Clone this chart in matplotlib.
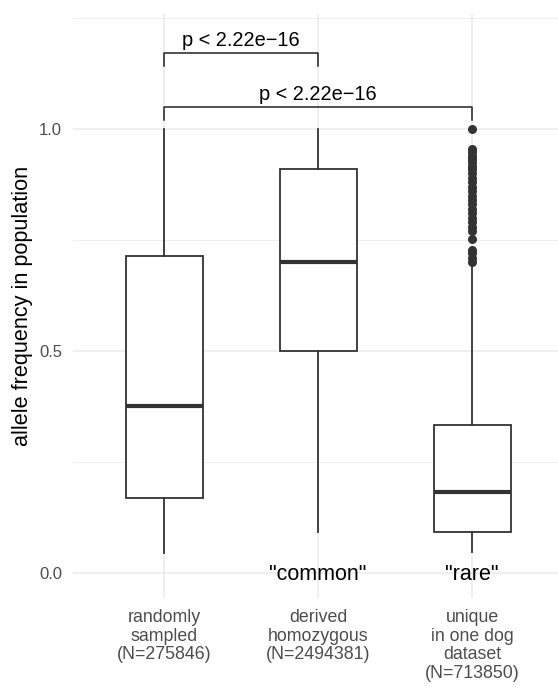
import matplotlib
matplotlib.use('Agg')
import matplotlib.pyplot as plt

plt.rcParams['font.family'] = ['Liberation Sans', 'DejaVu Sans']

# category labels on the x axis
groups = ['randomly\nsampled\n(N=275846)',
          'derived\nhomozygous\n(N=2494381)',
          'unique\nin one dog\ndataset\n(N=713850)']

# box statistics
whis_low = [0.045, 0.093, 0.047]
q1 = [0.169, 0.500, 0.092]
median = [0.376, 0.700, 0.182]
q3 = [0.714, 0.910, 0.333]
whis_high = [1.0, 1.0, 0.69]

# outliers, only the "rare" group has them
rare_outliers = [1.0, 0.955, 0.948, 0.94, 0.932, 0.925, 0.917, 0.91, 0.90,
                 0.89, 0.88, 0.87, 0.86, 0.85, 0.84, 0.83, 0.82, 0.81, 0.80,
                 0.79, 0.78, 0.77, 0.752, 0.727, 0.72, 0.71, 0.70]
outliers = [[], [], rare_outliers]

# significance brackets
pairs = [(1, 2), (1, 3)]
bracket_y = [1.171, 1.050]
p_text = ['p < 2.22e\u221216', 'p < 2.22e\u221216']

# labels written inside the panel
annot_x = [2, 3]
annot_text = ['"common"', '"rare"']

DARK = '#333333'
GRID = '#EBEBEB'
TXT = '#4D4D4D'

fig = plt.figure(figsize=(5.58, 6.88), dpi=100)
ax = fig.add_axes([73 / 558, 90 / 688, 485 / 558, 584 / 688])

stats = []
for i in range(len(groups)):
    stats.append({'whislo': whis_low[i], 'q1': q1[i], 'med': median[i],
                  'q3': q3[i], 'whishi': whis_high[i], 'fliers': outliers[i]})

ax.bxp(stats, positions=[1, 2, 3], widths=0.5, showcaps=False,
       patch_artist=True,
       boxprops=dict(facecolor='white', edgecolor=DARK, linewidth=1.3),
       whiskerprops=dict(color=DARK, linewidth=1.3),
       medianprops=dict(color=DARK, linewidth=3.0, solid_capstyle='butt'),
       flierprops=dict(marker='o', markersize=6.5, markerfacecolor=DARK,
                       markeredgecolor=DARK, markeredgewidth=0),
       zorder=3)

# grid like theme_minimal
for y in [0, 0.5, 1.0]:
    ax.axhline(y, color=GRID, linewidth=1.1, zorder=0)
for y in [0.25, 0.75, 1.25]:
    ax.axhline(y, color=GRID, linewidth=0.6, zorder=0)
for x in [1, 2, 3]:
    ax.axvline(x, color=GRID, linewidth=1.1, zorder=0)

# brackets with p values
tick = 0.029
for (a, b), y, t in zip(pairs, bracket_y, p_text):
    ax.plot([a, a, b, b], [y - tick, y, y, y - tick], color='#222222',
            linewidth=1.1, zorder=4, clip_on=False)
    ax.text((a + b) / 2, y + 0.006, t, ha='center', va='bottom',
            fontsize=14.4, color='black', zorder=5)

for x, t in zip(annot_x, annot_text):
    ax.text(x, -0.004, t, ha='center', va='center', fontsize=15.5,
            color='black', zorder=5)

ax.set_xlim(0.409, 3.558)
ax.set_ylim(-0.0563, 1.259)
ax.set_yticks([0.0, 0.5, 1.0])
ax.set_yticklabels(['0.0', '0.5', '1.0'])
ax.set_xticks([1, 2, 3])
ax.set_xticklabels(groups, linespacing=1.13)
ax.tick_params(axis='both', length=0, colors=TXT)
ax.tick_params(axis='y', labelsize=12, pad=8)
ax.tick_params(axis='x', labelsize=12.8, pad=8)
for s in ax.spines.values():
    s.set_visible(False)

ax.set_ylabel('allele frequency in population', fontsize=15.6,
              color='black', va='center')
ax.yaxis.set_label_coords(-0.105, 0.5)

fig.savefig('out.png', dpi=100)
